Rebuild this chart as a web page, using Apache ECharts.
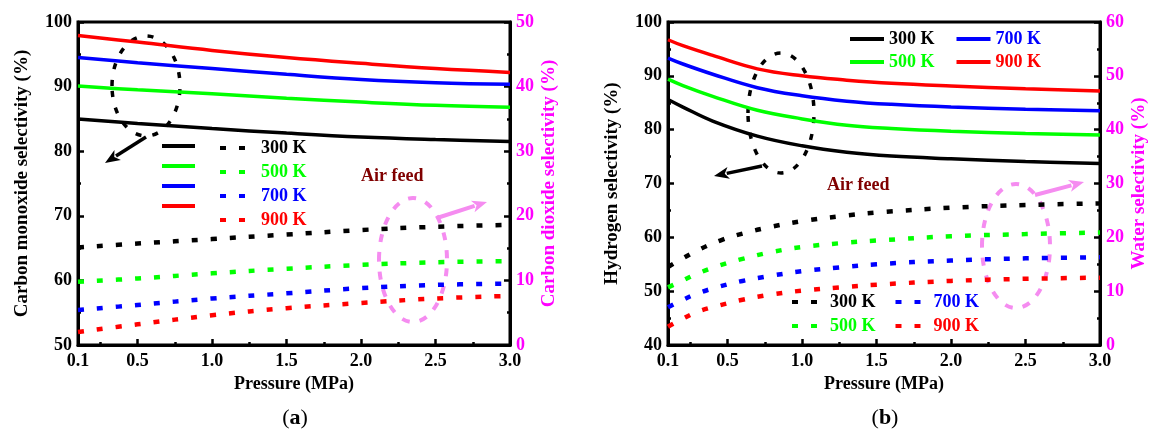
<!DOCTYPE html>
<html><head><meta charset="utf-8">
<script src="https://cdn.jsdelivr.net/npm/echarts/dist/echarts.min.js"></script>
<style>html,body{margin:0;padding:0;background:#fff}#c{width:1151px;height:437px}</style>
</head><body><div id="c"></div>
<script>
// ---------- DATA ----------
const temps = ['300 K', '500 K', '700 K', '900 K'];
const tempColors = ['#000000', '#00ff00', '#0000ff', '#ff0000'];

// Panel (a): air feed, CO (left axis) and CO2 (right axis) selectivity
const pressureA = [0.1, 0.5, 1.0, 1.5, 2.0, 2.5, 3.0];
const co300 = [85.0, 84.3, 83.5, 82.8, 82.2, 81.8, 81.5];
const co500 = [90.1, 89.5, 88.9, 88.2, 87.6, 87.1, 86.8];
const co700 = [94.5, 93.7, 92.8, 91.9, 91.1, 90.6, 90.35];
const co900 = [97.9, 96.9, 95.6, 94.5, 93.6, 92.8, 92.2];
const co2_300 = [15.1, 15.7, 16.4, 17.1, 17.8, 18.3, 18.6];
const co2_500 = [9.8, 10.3, 11.1, 11.8, 12.4, 12.8, 13.0];
const co2_700 = [5.4, 6.2, 7.2, 8.0, 8.8, 9.3, 9.5];
const co2_900 = [2.0, 3.2, 4.6, 5.7, 6.5, 7.2, 7.6];

// Panel (b): air feed, H2 (left axis) and H2O (right axis) selectivity
const pressureH2 = [0.1, 0.2, 0.4, 0.7, 1.0, 1.3, 1.6, 2.0, 2.5, 3.0];
const h2_300 = [85.6, 84.2, 81.6, 78.8, 77.0, 75.8, 75.1, 74.6, 74.1, 73.7];
const h2_500 = [89.4, 88.2, 86.2, 83.6, 82.0, 80.8, 80.2, 79.7, 79.3, 79.0];
const h2_700 = [93.3, 92.2, 90.3, 87.8, 86.3, 85.3, 84.7, 84.2, 83.8, 83.5];
const h2_900 = [96.7, 95.6, 93.8, 91.3, 90.0, 89.2, 88.6, 88.1, 87.6, 87.2];
const pressureW = [0.1, 0.2, 0.3, 0.45, 0.6, 0.8, 1.0, 1.25, 1.5, 2.0, 2.5, 3.0];
const w300 = [14.5, 16.1, 17.6, 19.4, 20.7, 22.0, 23.0, 23.9, 24.6, 25.5, 26.0, 26.3];
const w500 = [10.7, 12.0, 13.3, 14.8, 16.0, 17.3, 18.2, 18.9, 19.4, 20.2, 20.6, 20.9];
const w700 = [7.0, 8.4, 9.6, 10.9, 11.9, 12.9, 13.7, 14.4, 15.0, 15.7, 16.1, 16.3];
const w900 = [3.4, 4.9, 6.2, 7.4, 8.4, 9.4, 10.1, 10.7, 11.2, 11.9, 12.3, 12.5];

const xLabelValues = [0.1, 0.5, 1.0, 1.5, 2.0, 2.5, 3.0];
const xMajorTicks = [0.5, 1.0, 1.5, 2.0, 2.5];
const xMinorTicks = [0.25, 0.75, 1.25, 1.75, 2.25, 2.75];

// ---------- STYLE ----------
const FONT = '"Liberation Serif", "Times New Roman", serif';
const MAG = '#ff00ff';
const PINK = '#f58cf0';
const zip = (xs, ys) => xs.map((x, i) => [x, ys[i]]);

function xAxes(gi) {
  return [{
    gridIndex: gi, type: 'value', min: 0.1, max: 3.0,
    name: 'Pressure (MPa)', nameLocation: 'middle', nameGap: 27,
    nameTextStyle: {fontFamily: FONT, fontWeight: 'bold', fontSize: 18, color: '#000'},
    axisLine: {show: true, onZero: false, lineStyle: {color: '#000', width: 3}},
    axisTick: {show: true, inside: true, length: 6, customValues: xMajorTicks, lineStyle: {color: '#000', width: 2.5}},
    axisLabel: {customValues: xLabelValues, formatter: v => Number(v).toFixed(1), fontFamily: FONT, fontWeight: 'bold', fontSize: 18, color: '#000', margin: 7},
    splitLine: {show: false}
  }, {
    gridIndex: gi, type: 'value', min: 0.1, max: 3.0, position: 'bottom',
    axisLine: {show: false},
    axisTick: {show: true, inside: true, length: 3, customValues: xMinorTicks, lineStyle: {color: '#000', width: 2.5}},
    axisLabel: {show: false}, splitLine: {show: false}
  }];
}
function yAxis(gi, pos, min, max, name, nameColor, labelColor, gap) {
  return {
    gridIndex: gi, type: 'value', position: pos, min: min, max: max, interval: 10,
    name: name, nameLocation: 'middle', nameGap: gap, nameRotate: 90,
    nameTextStyle: {fontFamily: FONT, fontWeight: 'bold', fontSize: 19, color: nameColor},
    axisLine: {show: true, onZero: false, lineStyle: {color: '#000', width: 3}},
    axisTick: {show: true, inside: true, length: 6, lineStyle: {color: '#000', width: 2.5}},
    minorTick: {show: true, splitNumber: 2, length: 3, lineStyle: {color: '#000', width: 2.5}},
    axisLabel: {fontFamily: FONT, fontWeight: 'bold', fontSize: 18, color: labelColor, margin: 6},
    splitLine: {show: false}, minorSplitLine: {show: false}
  };
}

const series = [];
function addSet(prefix, xs, arrs, xi, yi, dashed) {
  arrs.forEach((ys, i) => {
    series.push({
      name: prefix + ' ' + temps[i], type: 'line', smooth: 0.4, symbol: 'none',
      xAxisIndex: xi, yAxisIndex: yi, data: zip(xs, ys), z: 3,
      lineStyle: dashed ? {color: tempColors[i], width: 4.5, type: [6, 13], cap: 'butt'}
                        : {color: tempColors[i], width: 3.5},
      itemStyle: {color: tempColors[i]}
    });
  });
}
addSet('CO', pressureA, [co300, co500, co700, co900], 0, 0, false);
addSet('CO2', pressureA, [co2_300, co2_500, co2_700, co2_900], 0, 1, true);
addSet('H2', pressureH2, [h2_300, h2_500, h2_700, h2_900], 2, 2, false);
addSet('H2O', pressureW, [w300, w500, w700, w900], 2, 3, true);

function legend(prefix, idxs, left, top, orient, itemWidth, itemGap, showText) {
  return {
    orient: orient, left: left, top: top, itemWidth: itemWidth, itemHeight: 20, itemGap: itemGap,
    selectedMode: false, padding: 0,
    lineStyle: {width: 4},
    itemStyle: {opacity: 0, color: 'rgba(0,0,0,0)', borderWidth: 0},
    formatter: showText ? (n => n.replace(/^\S+ /, '')) : (() => ''),
    textStyle: {fontFamily: FONT, fontWeight: 'bold', fontSize: 18, lineHeight: 20},
    data: idxs.map(i => ({name: prefix + ' ' + temps[i], textStyle: {color: tempColors[i]}}))
  };
}

// annotation helpers
function arrow(x1, y1, x2, y2, color, w) {
  const dx = x2 - x1, dy = y2 - y1, L = Math.hypot(dx, dy);
  const ux = dx / L, uy = dy / L, nx = -uy, ny = ux, hl = 15, hw = 6;
  const bx = x2 - hl * ux, by = y2 - hl * uy;
  return [
    {type: 'line', shape: {x1: x1, y1: y1, x2: bx + ux * 2, y2: by + uy * 2}, style: {stroke: color, lineWidth: w}},
    {type: 'polygon', shape: {points: [[x2, y2], [bx + hw * nx, by + hw * ny], [bx + 4 * ux, by + 4 * uy], [bx - hw * nx, by - hw * ny]]}, style: {fill: color}}
  ];
}
function ell(cx, cy, rx, ry, color, w, dash) {
  return {type: 'ellipse', shape: {cx: cx, cy: cy, rx: rx, ry: ry}, style: {fill: null, stroke: color, lineWidth: w, lineDash: dash}};
}
const txt = (x, y, text, color, size) => ({type: 'text', x: x, y: y, style: {text: text, fill: color, font: 'bold ' + size + 'px ' + FONT, textAlign: 'left', textVerticalAlign: 'middle'}});

const graphic = [].concat(
  [ell(146, 86, 34, 50, '#000', 3.5, [6, 11]), ell(413, 260, 34, 62, PINK, 4, [8, 10]),
   ell(781, 113, 33, 60, '#000', 3.5, [6, 11]), ell(1016, 246, 34, 62, PINK, 4, [8, 10])],
  arrow(146, 137, 105, 163, '#000', 3.5), arrow(437, 218, 487, 202, PINK, 4),
  arrow(762, 166, 714, 176, '#000', 3.5), arrow(1035, 195, 1084, 182, PINK, 4),
  [txt(361, 176, 'Air feed', '#800000', 18), txt(827, 185, 'Air feed', '#800000', 18),
   {type: 'text', x: 295, y: 418, style: {text: '({b|a})', font: '22px ' + FONT, fill: '#000', textAlign: 'center', textVerticalAlign: 'middle', rich: {b: {fontWeight: 'bold', fontSize: 22, fontFamily: FONT}}}},
   {type: 'text', x: 885, y: 418, style: {text: '({b|b})', font: '22px ' + FONT, fill: '#000', textAlign: 'center', textVerticalAlign: 'middle', rich: {b: {fontWeight: 'bold', fontSize: 22, fontFamily: FONT}}}}]
);

const option = {
  animation: false,
  backgroundColor: '#fff',
  grid: [
    {left: 78, top: 22, width: 432, height: 323, show: true, borderColor: '#000', borderWidth: 3},
    {left: 668, top: 22, width: 432, height: 323, show: true, borderColor: '#000', borderWidth: 3}
  ],
  xAxis: xAxes(0).concat(xAxes(1)),
  yAxis: [
    yAxis(0, 'left', 50, 100, 'Carbon monoxide selectivity (%)', '#000', '#000', 46),
    yAxis(0, 'right', 0, 50, 'Carbon dioxide selectivity (%)', MAG, MAG, 30),
    yAxis(1, 'left', 40, 100, 'Hydrogen selectivity (%)', '#000', '#000', 46),
    yAxis(1, 'right', 0, 60, 'Water selectivity (%)', MAG, MAG, 30)
  ],
  legend: [
    legend('CO', [0, 1, 2, 3], 160, 138, 'vertical', 33, 4, false),
    legend('CO2', [0, 1, 2, 3], 218, 138, 'vertical', 36, 4, true),
    legend('H2', [0, 2], 848, 29, 'horizontal', 34, 20, true),
    legend('H2', [1, 3], 848, 52, 'horizontal', 34, 20, true),
    legend('H2O', [0, 2], 790, 292, 'horizontal', 33, 18, true),
    legend('H2O', [1, 3], 790, 316, 'horizontal', 33, 18, true)
  ],
  series: series,
  graphic: graphic
};
echarts.init(document.getElementById('c'), null, {renderer: 'canvas'}).setOption(option);
</script></body></html>
